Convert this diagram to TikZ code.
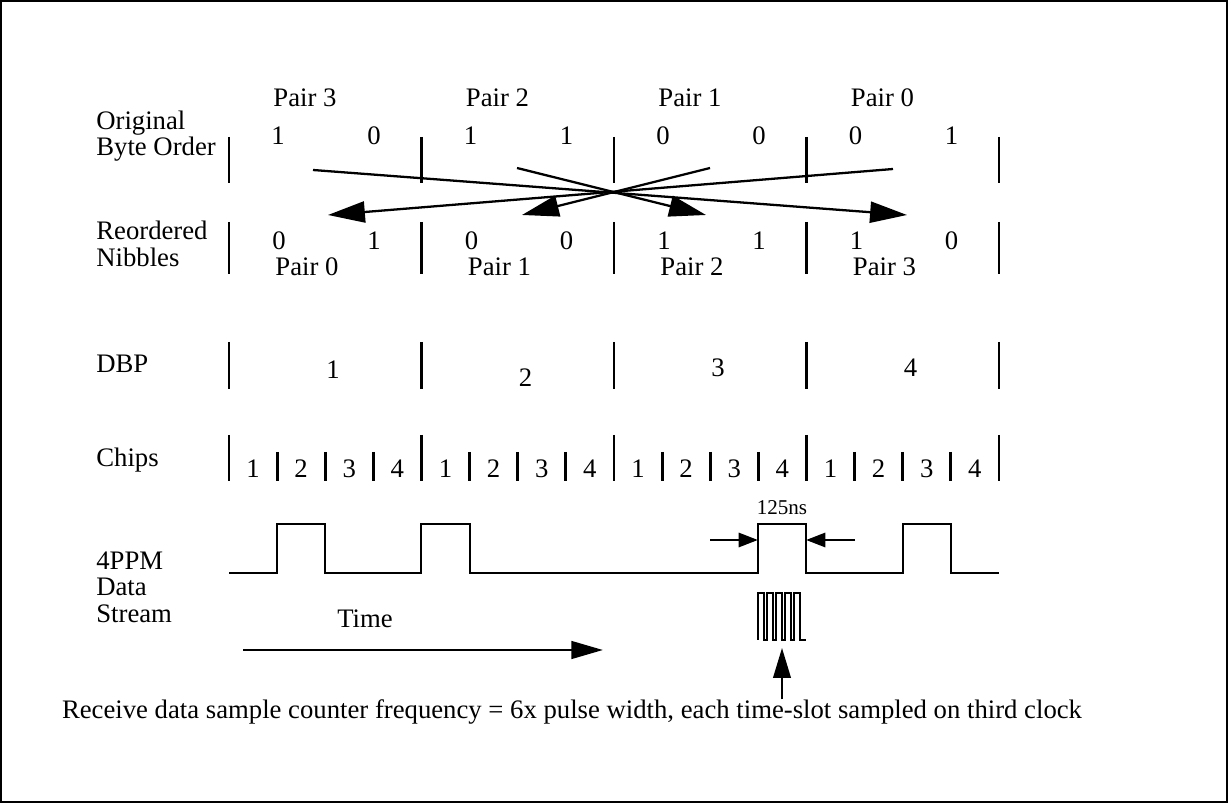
\documentclass[tikz,border=0pt]{standalone}
\usepackage{fontspec}
\setmainfont{Liberation Serif}
\usetikzlibrary{arrows.meta}

\begin{document}
\begin{tikzpicture}[x=0.02cm, y=-0.02cm, >={Triangle[length=21pt,width=12pt]},
  every node/.style={font=\fontsize{15.2}{15}\selectfont, inner sep=0pt},
  bar/.style={line width=1.6pt},
  swap/.style={line width=1.3pt},
  wave/.style={line width=1.6pt},
  clk/.style={line width=0.8pt},
  rowlabel/.style={anchor=west, align=left}]
\useasboundingbox (0,0) rectangle (1228,803);
\draw[line width=1.1pt] (1,1) rectangle (1227,802);

% row labels
\node[rowlabel] (lorig) at (96,136) {Original\\Byte Order};
\node[rowlabel] (lreord) at (96,244) {Reordered\\Nibbles};
\node[rowlabel] (ldbp) at (96,364) {DBP};
\node[rowlabel] (lchips) at (96,460) {Chips};
\node[rowlabel] (lppm) at (96,587) {4PPM\\Data\\Stream};

% symbol boundaries
\foreach \i in {0,...,4} {
  \pgfmathsetmacro{\xt}{229+192.5*\i}
  \draw[bar] (\xt,137) -- (\xt,183);
  \draw[bar] (\xt,222) -- (\xt,274);
  \draw[bar] (\xt,342) -- (\xt,389);
  \draw[bar] (\xt,435) -- (\xt,481);
}

% original byte order
\foreach \p/\a/\b [count=\i from 0] in {3/1/0, 2/1/1, 1/0/0, 0/0/1} {
  \pgfmathsetmacro{\xt}{229+192.5*\i}
  \node (otop\i) at (\xt+76,98) {Pair \p};
  \node (oa\i) at (\xt+49,136) {\a};
  \node (ob\i) at (\xt+145,136) {\b};
}

% reordered nibbles
\foreach \p/\a/\b [count=\i from 0] in {0/0/1, 1/0/0, 2/1/1, 3/1/0} {
  \pgfmathsetmacro{\xt}{229+192.5*\i}
  \node (ra\i) at (\xt+50,241) {\a};
  \node (rb\i) at (\xt+145,241) {\b};
  \node (rbot\i) at (\xt+78,267) {Pair \p};
}

% swap arrows
\coordinate (s3) at (313,170); \coordinate (e3) at (907,215);
\coordinate (s2) at (517,168); \coordinate (e2) at (706,215);
\coordinate (s1) at (710,168); \coordinate (e1) at (522,215);
\coordinate (s0) at (893,169); \coordinate (e0) at (328,215);
\foreach \k in {0,...,3}
  \draw[->, swap] (s\k) -- (e\k);

% DBP symbols
\foreach \v/\yy [count=\i from 0] in {1/370, 2/378, 3/368, 4/368} {
  \pgfmathsetmacro{\xt}{229+192.5*\i}
  \node (dbp\i) at (\xt+104,\yy) {\v};
}

% chips
\foreach \i in {0,...,3} {
  \foreach \c in {1,...,4} {
    \pgfmathsetmacro{\xc}{229+192.5*\i+48.125*(\c-1)}
    \ifnum\c>1 \draw[bar] (\xc,452) -- (\xc,481); \fi
    \node (chip\i\c) at (\xc+24,469) {\c};
  }
}

% 4PPM data stream
\draw[wave] (229,573) -- (277,573) |- (325,524) |- (421,573) |- (470,524) |- (758,573)
  |- (806,524) |- (903,573) |- (951,524) |- (999,573);

% pulse width
\node[font=\fontsize{12}{13}\selectfont] (tw) at (782,508) {125ns};
\coordinate (pl) at (710,540); \coordinate (plt) at (758,540);
\coordinate (pr) at (855,540); \coordinate (prt) at (806,540);
\draw[->, wave, >={Triangle[length=11pt,width=8pt]}] (pl) -- (plt);
\draw[->, wave, >={Triangle[length=11pt,width=8pt]}] (pr) -- (prt);

% sample clock
\draw[clk] (758,640)
  \foreach \n in {0,...,4} { -- (758+9*\n,640) -- (758+9*\n,593) -- (764+9*\n,593) -- (764+9*\n,640) }
  -- (806,640);

% time arrow
\node (ttime) at (365,619) {Time};
\coordinate (t0) at (243,650); \coordinate (t1) at (603,650);
\draw[->, bar, >={Triangle[length=18pt,width=10pt]}] (t0) -- (t1);

% note
\node (note) at (572,712) {Receive data sample counter frequency = 6x pulse width, each time-slot sampled on third clock};
\coordinate (clkpt) at (782,648);
\draw[->, line width=1.1pt, >={Triangle[length=17pt,width=10pt]}] (note.north -| clkpt) -- (clkpt);
\end{tikzpicture}
\end{document}
